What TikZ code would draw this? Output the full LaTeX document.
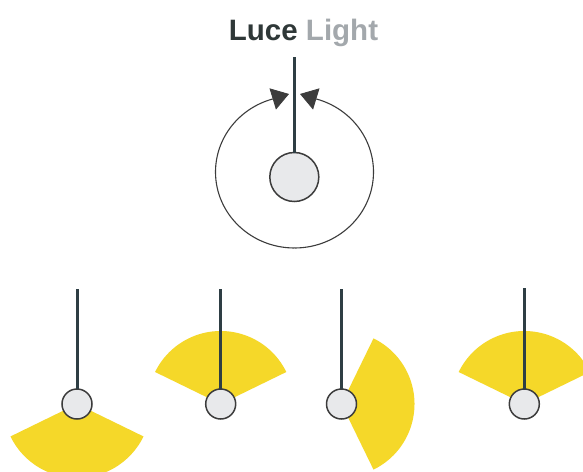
\documentclass[tikz,border=0pt]{standalone}
\usepackage{fontspec}
\setmainfont{Liberation Sans}
\usetikzlibrary{arrows.meta}
\definecolor{titledark}{HTML}{2F3838}
\definecolor{titlegray}{HTML}{A3A8AC}
\definecolor{roddark}{HTML}{2E3E44}
\definecolor{ringgray}{HTML}{3C3C3C}
\definecolor{bulbfill}{HTML}{E8E9EB}
\definecolor{lampyellow}{HTML}{F5D829}
\tikzset{
  bulb/.style={circle, draw=ringgray, line width=1.5pt, fill=bulbfill, inner sep=0pt, outer sep=0pt, minimum size=#1},
  bulb/.default=30pt,
  rod/.style={draw=roddark, line width=3pt},
  beam/.style={fill=lampyellow},
  ring/.style={draw=ringgray, line width=1.1pt},
  tiphead/.style={draw=ringgray, line width=0.8pt, -{Triangle[length=17pt,width=22pt,fill=ringgray]}},
  guide/.style={ellipse, draw=none, inner sep=0pt, outer sep=0pt, minimum width=158pt, minimum height=152pt}
}
\usetikzlibrary{shapes.geometric}
\begin{document}
\begin{tikzpicture}[x=1pt,y=1pt]
\clip (0,0) rectangle (583,-471);
\fill[white] (0,0) rectangle (583,-471);
% title
\node[anchor=base, inner sep=0pt, font=\bfseries\fontsize{29.5}{30}\selectfont] (title) at (303.5,-40)
  {\textcolor{titledark}{Luce} \textcolor{titlegray}{Light}};
% top figure
\node[guide] (big) at (294.5,-172) {};
\coordinate (toptop) at (294.3,-57);
\draw[ring] (big.south) arc[start angle=270, end angle=106, x radius=79, y radius=76] coordinate (la);
\draw[ring] (big.south) arc[start angle=-90, end angle=74, x radius=79, y radius=76] coordinate (ra);
\draw[tiphead] (la) -- ++(17:17);
\draw[tiphead] (ra) -- ++(163:17);
\node[bulb=49pt] (b0) at (294.3,-177) {};
\draw[rod, line width=2.6pt] (toptop) -- (b0.north);
% lamp 1 (beam down)
\coordinate (r1) at (77,-289);
\coordinate (c1) at (77,-404);
\fill[beam] (c1) -- ++(206:74) arc[start angle=206, end angle=334, radius=74] -- cycle;
\node[bulb] (b1) at (c1) {};
\draw[rod] (r1) -- (b1.north);
% lamp 2 (beam up)
\coordinate (r2) at (220.7,-289);
\coordinate (c2) at (220.7,-404);
\fill[beam] (c2) -- ++(26:73) arc[start angle=26, end angle=154, radius=73] -- cycle;
\node[bulb] (b2) at (c2) {};
\draw[rod] (r2) -- (b2.north);
% lamp 3 (beam right)
\coordinate (r3) at (341.5,-289);
\coordinate (c3) at (341.5,-404);
\fill[beam] (c3) -- ++(-64:73) arc[start angle=-64, end angle=64, radius=73] -- cycle;
\node[bulb] (b3) at (c3) {};
\draw[rod] (r3) -- (b3.north);
% lamp 4 (beam up)
\coordinate (r4) at (524.3,-288);
\coordinate (c4) at (524.3,-404);
\fill[beam] (c4) -- ++(26:73) arc[start angle=26, end angle=154, radius=73] -- cycle;
\node[bulb] (b4) at (c4) {};
\draw[rod] (r4) -- (b4.north);
\end{tikzpicture}
\end{document}
